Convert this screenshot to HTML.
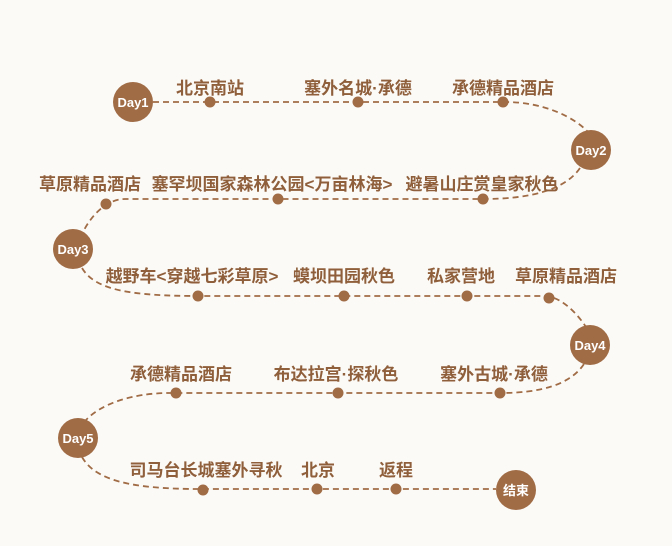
<!DOCTYPE html>
<html><head><meta charset="utf-8"><style>
html,body{margin:0;padding:0;background:#fcfaf7;}
svg{display:block}
text{font-family:"Liberation Sans","Noto Sans CJK SC",sans-serif;}
.l{fill:#8f5f3b;font-size:17px;font-weight:bold;text-anchor:middle}
.d{fill:#fff;font-size:13px;font-weight:bold;text-anchor:middle}
</style></head><body>
<svg width="672" height="546" viewBox="0 0 672 546">
<rect width="672" height="546" fill="#fcfaf7"/>
<g fill="none" stroke="#a06c46" stroke-width="1.8" stroke-dasharray="6,4">
<path d="M153 102 L505 102 C545 102 575 118 588 132"/>
<path d="M580 168 C565 190 530 199 483 199 L125 199 C110 199 95 210 84 230"/>
<path d="M82 268 C95 290 130 296 200 296 L548 296 C565 300 578 315 586 327"/>
<path d="M584 364 C570 385 540 393 500 393 L170 393 C130 393 100 405 86 420"/>
<path d="M82 457 C95 480 130 489 200 489 L496 489"/>
</g>
<g fill="#a06c46">
<circle cx="133" cy="102" r="20"/>
<circle cx="591" cy="150" r="20"/>
<circle cx="73" cy="249" r="20"/>
<circle cx="590" cy="345" r="20"/>
<circle cx="78" cy="438" r="20"/>
<circle cx="516" cy="490" r="20"/>
<circle cx="210" cy="102" r="5.5"/><circle cx="358" cy="102" r="5.5"/><circle cx="503" cy="102" r="5.5"/>
<circle cx="483" cy="199" r="5.5"/><circle cx="278" cy="199" r="5.5"/><circle cx="106" cy="204" r="5.5"/>
<circle cx="198" cy="296" r="5.5"/><circle cx="344" cy="296" r="5.5"/><circle cx="467" cy="296" r="5.5"/><circle cx="549" cy="298" r="5.5"/>
<circle cx="500" cy="393" r="5.5"/><circle cx="338" cy="393" r="5.5"/><circle cx="176" cy="393" r="5.5"/>
<circle cx="203" cy="490" r="5.5"/><circle cx="317" cy="489" r="5.5"/><circle cx="396" cy="489" r="5.5"/>
</g>
<text class="d" x="133" y="107">Day1</text>
<text class="d" x="591" y="155">Day2</text>
<text class="d" x="73" y="254">Day3</text>
<text class="d" x="590" y="350">Day4</text>
<text class="d" x="78" y="443">Day5</text>
<text class="d" x="516" y="495">结束</text>
<text class="l" x="210" y="94">北京南站</text>
<text class="l" x="358" y="94">塞外名城·承德</text>
<text class="l" x="503" y="94">承德精品酒店</text>
<text class="l" x="90" y="190">草原精品酒店</text>
<text class="l" x="272" y="190">塞罕坝国家森林公园&lt;万亩林海&gt;</text>
<text class="l" x="482" y="190">避暑山庄赏皇家秋色</text>
<text class="l" x="192" y="282">越野车&lt;穿越七彩草原&gt;</text>
<text class="l" x="344" y="282">蟆坝田园秋色</text>
<text class="l" x="461" y="282">私家营地</text>
<text class="l" x="566" y="282">草原精品酒店</text>
<text class="l" x="181" y="380">承德精品酒店</text>
<text class="l" x="336" y="380">布达拉宫·探秋色</text>
<text class="l" x="494" y="380">塞外古城·承德</text>
<text class="l" x="206" y="476">司马台长城塞外寻秋</text>
<text class="l" x="318" y="476">北京</text>
<text class="l" x="396" y="476">返程</text>
</svg>
</body></html>
